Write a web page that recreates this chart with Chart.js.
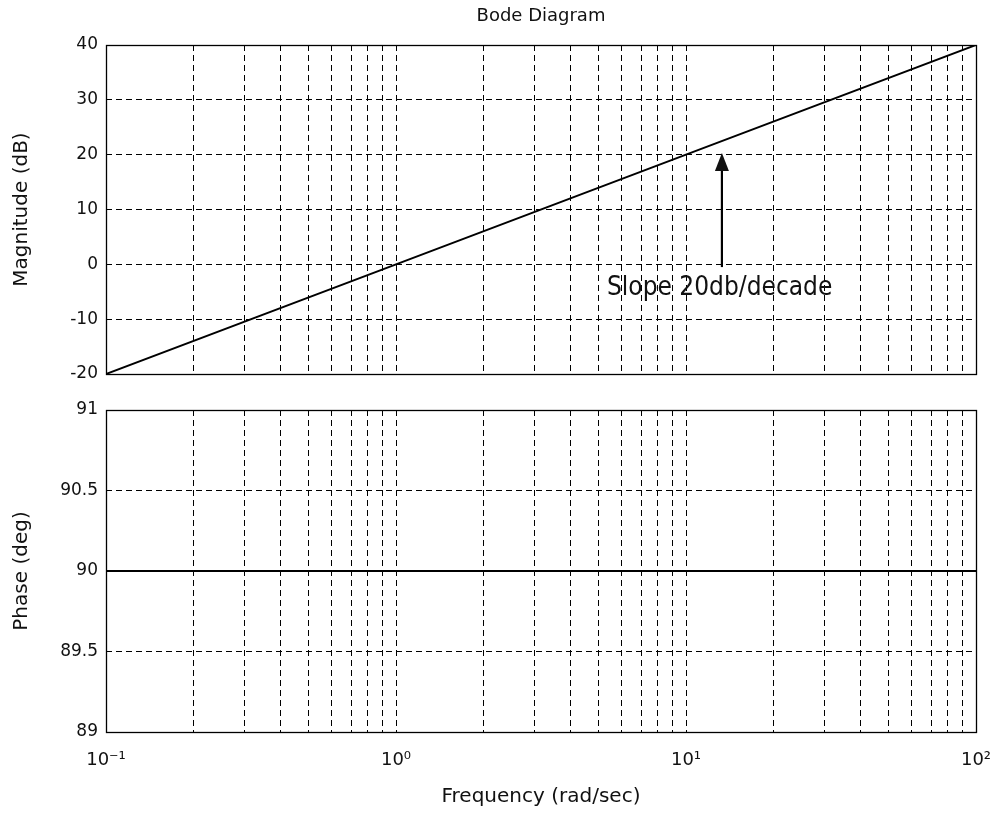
<!DOCTYPE html>
<html lang="en">
<head>
<meta charset="UTF-8">
<title>Bode Diagram</title>
<script src="https://cdn.jsdelivr.net/npm/chart.js@4.4.1/dist/chart.umd.min.js"></script>
<style>
  html, body { margin: 0; padding: 0; background: #fff; }
  #wrap { position: relative; width: 991px; height: 816px; }
  #magChart { position: absolute; left: 0; top: 0; }
  #phaseChart { position: absolute; left: 0; top: 400px; }
</style>
</head>
<body>
<div id="wrap">
  <canvas id="magChart" width="991" height="400"></canvas>
  <canvas id="phaseChart" width="991" height="416"></canvas>
</div>
<script>
// frequency samples (rad/sec) and the response
const freq = [0.1, 1, 10, 100];
const magnitudeDb = [-20, 0, 20, 40];
const phaseDeg = [90, 90, 90, 90];

// axis ticks
const decades = [0.1, 1, 10, 100];
const decadeLabels = ['10\u207B\u00B9', '10\u2070', '10\u00B9', '10\u00B2'];
const magTicks = [-20, -10, 0, 10, 20, 30, 40];
const magTickLabels = ['-20', '-10', '0', '10', '20', '30', '40'];
const phaseTicks = [89, 89.5, 90, 90.5, 91];
const phaseTickLabels = ['89', '89.5', '90', '90.5', '91'];

// annotation anchor, in data units
const noteText = 'Slope 20db/decade';
const noteArrowFreq = 13.3;
const noteArrowFrom = -0.5;
const noteArrowTo = 20.3;
const noteTextFreq = 5.34;
const noteTextDb = -4.3;

// log grid: 1..9 times each decade
const gridFreqs = [];
decades.forEach((d, i) => {
    if (i === decades.length - 1) { gridFreqs.push(d); return; }
    for (let k = 1; k <= 9; k++) gridFreqs.push(d * k);
});

const FONT = "'DejaVu Sans', sans-serif";
const INK = '#111';

function toPoints(ys) {
    return freq.map((f, i) => ({ x: f, y: ys[i] }));
}

// keep edge labels from shrinking the plot box
function noEdgePadding(s) {
    s.paddingLeft = 0;
    s.paddingRight = 0;
    s.paddingTop = 0;
    s.paddingBottom = 0;
}

function freqAxis(showLabels, axisHeight) {
    return {
        type: 'logarithmic',
        min: 0.1,
        max: 100,
        afterBuildTicks: s => { s.ticks = gridFreqs.map(v => ({ value: v })); },
        afterFit: s => { s.height = axisHeight; noEdgePadding(s); },
        ticks: {
            display: showLabels,
            autoSkip: false,
            maxRotation: 0,
            padding: 18,
            color: INK,
            font: { family: FONT, size: 18 },
            callback: v => {
                const i = decades.indexOf(v);
                return i >= 0 ? decadeLabels[i] : '';
            }
        },
        grid: { color: '#000', lineWidth: 1, drawTicks: false },
        border: { display: false, dash: [6, 4] },
        title: {
            display: showLabels,
            text: 'Frequency (rad/sec)',
            color: INK,
            font: { family: FONT, size: 20 },
            padding: { top: 0, bottom: 7 }
        }
    };
}

function valueAxis(ticks, labels, titleText) {
    return {
        type: 'linear',
        min: ticks[0],
        max: ticks[ticks.length - 1],
        afterBuildTicks: s => { s.ticks = ticks.map(v => ({ value: v })); },
        afterFit: s => { s.width = 106; noEdgePadding(s); },
        ticks: {
            padding: 8,
            color: INK,
            font: { family: FONT, size: 17 },
            callback: v => {
                const i = ticks.indexOf(v);
                return i >= 0 ? labels[i] : '';
            }
        },
        grid: { color: '#000', lineWidth: 1, drawTicks: false },
        border: { display: false, dash: [6, 4] },
        title: {
            display: true,
            text: titleText,
            color: INK,
            font: { family: FONT, size: 20 },
            padding: { top: 10, bottom: 0 }
        }
    };
}

// solid box round the plot area
const frame = {
    id: 'frame',
    afterDatasetsDraw(chart) {
        const { ctx, chartArea: a } = chart;
        ctx.save();
        ctx.strokeStyle = '#000';
        ctx.lineWidth = 1.3;
        ctx.strokeRect(Math.round(a.left) + 0.5, Math.round(a.top) + 0.5,
            Math.round(a.right - a.left), Math.round(a.bottom - a.top));
        ctx.restore();
    }
};

// title over the plot + slope note with arrow
const magExtras = {
    id: 'magExtras',
    afterDraw(chart) {
        const { ctx, chartArea: a, scales: { x, y } } = chart;
        ctx.save();
        ctx.fillStyle = INK;
        ctx.font = "18px " + FONT;
        ctx.textAlign = 'center';
        ctx.textBaseline = 'middle';
        ctx.fillText('Bode Diagram', (a.left + a.right) / 2, 16);

        const ax = x.getPixelForValue(noteArrowFreq);
        const y0 = y.getPixelForValue(noteArrowFrom);
        const y1 = y.getPixelForValue(noteArrowTo);
        ctx.strokeStyle = '#000';
        ctx.lineWidth = 2.2;
        ctx.beginPath();
        ctx.moveTo(ax, y0);
        ctx.lineTo(ax, y1 + 14);
        ctx.stroke();
        ctx.beginPath();
        ctx.moveTo(ax, y1);
        ctx.lineTo(ax - 7, y1 + 18);
        ctx.lineTo(ax + 7, y1 + 18);
        ctx.closePath();
        ctx.fill();

        ctx.font = "26px 'DejaVu Sans Condensed', 'DejaVu Sans', sans-serif";
        ctx.textAlign = 'left';
        ctx.fillText(noteText, x.getPixelForValue(noteTextFreq), y.getPixelForValue(noteTextDb));
        ctx.restore();
    }
};

const lineStyle = {
    borderColor: '#000',
    borderWidth: 2,
    pointRadius: 0,
    tension: 0,
    fill: false
};

new Chart(document.getElementById('magChart'), {
    type: 'line',
    data: {
        datasets: [Object.assign({ label: 'Magnitude', data: toPoints(magnitudeDb) }, lineStyle)]
    },
    options: {
        responsive: false,
        animation: false,
        layout: { padding: { top: 45, right: 15, left: 0, bottom: 0 } },
        plugins: { legend: { display: false }, tooltip: { enabled: false } },
        scales: {
            x: freqAxis(false, 26),
            y: valueAxis(magTicks, magTickLabels, 'Magnitude (dB)')
        }
    },
    plugins: [frame, magExtras]
});

new Chart(document.getElementById('phaseChart'), {
    type: 'line',
    data: {
        datasets: [Object.assign({ label: 'Phase', data: toPoints(phaseDeg) }, lineStyle)]
    },
    options: {
        responsive: false,
        animation: false,
        layout: { padding: { top: 10, right: 15, left: 0, bottom: 0 } },
        plugins: { legend: { display: false }, tooltip: { enabled: false } },
        scales: {
            x: freqAxis(true, 84),
            y: valueAxis(phaseTicks, phaseTickLabels, 'Phase (deg)')
        }
    },
    plugins: [frame]
});
</script>
</body>
</html>
